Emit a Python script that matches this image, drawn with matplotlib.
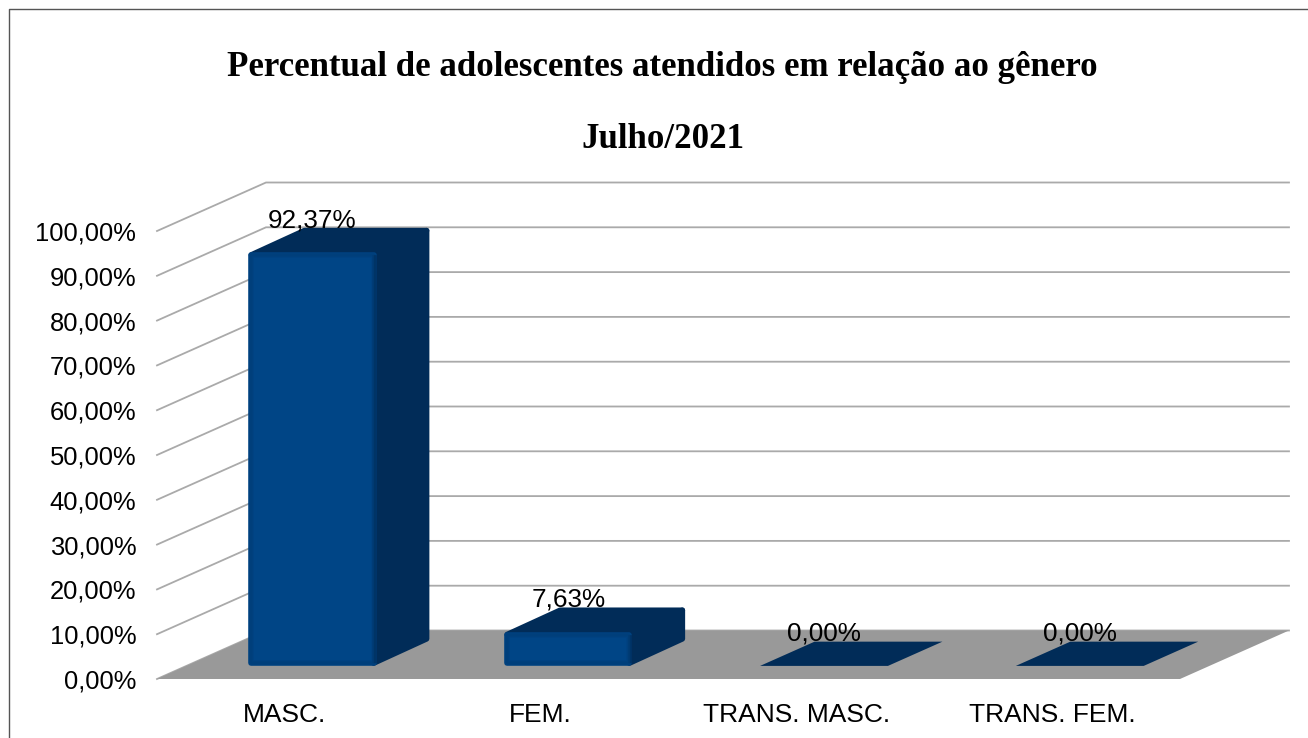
import matplotlib
matplotlib.use("Agg")
import matplotlib.pyplot as plt
from matplotlib.lines import Line2D
from matplotlib.patches import Polygon

# dados do gráfico
categorias = ["MASC.", "FEM.", "TRANS. MASC.", "TRANS. FEM."]
percentuais = [92.37, 7.63, 0.00, 0.00]
rotulos = ["92,37%", "7,63%", "0,00%", "0,00%"]
ticks_y = [0, 10, 20, 30, 40, 50, 60, 70, 80, 90, 100]
ticks_y_rotulos = ["0,00%", "10,00%", "20,00%", "30,00%", "40,00%", "50,00%",
                   "60,00%", "70,00%", "80,00%", "90,00%", "100,00%"]

AZUL = "#004586"
AZUL_ESCURO = "#012c58"
CINZA_GRADE = "#aaaaaa"
CINZA_PISO = "#999999"

W, H = 1308, 738

# deslocamento da perspectiva (fundo do gráfico), em unidades dos eixos
PROF_X = 109 / 255.75
PROF_Y = 48.5 / 4.48
BAR_FRENTE = 0.27
BAR_FUNDO = 0.77
BAR_LARG = 0.5
BAR_DESVIO = -0.007
# recuo do contorno arredondado, para a borda externa cair no valor da barra
RECUO_X = 0.011
RECUO_Y = 0.62


def desenha_barra(ax, i, valor):
    x0 = i + 0.5 - BAR_LARG / 2 + BAR_FRENTE * PROF_X + BAR_DESVIO
    x1 = x0 + BAR_LARG
    y0 = BAR_FRENTE * PROF_Y
    y1 = y0 + valor
    dx = (BAR_FUNDO - BAR_FRENTE) * PROF_X
    dy = (BAR_FUNDO - BAR_FRENTE) * PROF_Y

    if valor == 0:
        topo = [(x0, y1), (x1, y1), (x1 + dx, y1 + dy), (x0 + dx, y1 + dy)]
        ax.add_patch(Polygon(topo, fc=AZUL_ESCURO, ec="none", zorder=3, clip_on=False))
        return

    x0 += RECUO_X
    x1 -= RECUO_X
    y0 += RECUO_Y
    y1 -= RECUO_Y
    dx -= 0.006

    # lateral e topo com cantos arredondados
    topo = [(x0, y1), (x1, y1), (x1 + dx, y1 + dy), (x0 + dx, y1 + dy)]
    lateral = [(x1, y0), (x1 + dx, y0 + dy), (x1 + dx, y1 + dy), (x1, y1)]
    estilo = dict(fc=AZUL_ESCURO, ec=AZUL_ESCURO, lw=4, joinstyle="round", zorder=3, clip_on=False)
    ax.add_patch(Polygon(lateral, **estilo))
    ax.add_patch(Polygon(topo, **estilo))

    frente = [(x0, y0), (x1, y0), (x1, y1), (x0, y1)]
    ax.add_patch(Polygon(frente, fc=AZUL, ec=AZUL, lw=4, joinstyle="round", zorder=4, clip_on=False))
    # sombreado suave: contorno fraco e transição mais forte na aresta direita
    for lw, alpha in [(4, 0.08), (3, 0.08), (1.5, 0.08)]:
        ax.add_patch(Polygon(frente, fc="none", ec=AZUL_ESCURO, lw=lw, alpha=alpha,
                             joinstyle="round", zorder=5, clip_on=False))
    for lw, alpha in [(4, 0.2), (2.5, 0.25), (1.2, 0.3)]:
        ax.plot([x1 + RECUO_X * 0.6] * 2, [y0, y1], color=AZUL_ESCURO, lw=lw, alpha=alpha,
                zorder=5, clip_on=False, solid_capstyle="butt")


fig = plt.figure(figsize=(W / 100, H / 100), dpi=100, facecolor="white")
ax = fig.add_axes([157 / W, 1 - 679 / H, 1023 / W, 448 / H])
ax.set_xlim(0, 4)
ax.set_ylim(0, 100)
ax.patch.set_alpha(0)
for lado in ax.spines.values():
    lado.set_visible(False)

# grade: diagonal na parede lateral e horizontal na parede do fundo
for t in ticks_y:
    ax.plot([0, PROF_X, 4 + PROF_X], [t, t + PROF_Y, t + PROF_Y], color=CINZA_GRADE,
            lw=1.3, zorder=1, clip_on=False, solid_joinstyle="miter")

# piso
piso = [(0, 0), (4, 0), (4 + PROF_X, PROF_Y), (PROF_X, PROF_Y)]
ax.add_patch(Polygon(piso, fc=CINZA_PISO, ec="none", zorder=2, clip_on=False))

for i, v in enumerate(percentuais):
    desenha_barra(ax, i, v)
    ax.annotate(rotulos[i], xy=(i + 0.5 + BAR_FRENTE * PROF_X + BAR_DESVIO, v + BAR_FRENTE * PROF_Y),
                xytext=(0, 32), textcoords="offset pixels", ha="center", va="center",
                fontsize=18.8, family="Liberation Sans", color="black", zorder=6,
                annotation_clip=False)

ax.set_xticks([i + 0.5 for i in range(len(categorias))])
ax.set_xticklabels(categorias, family="Liberation Sans", fontsize=19)
ax.set_yticks(ticks_y)
ax.set_yticklabels(ticks_y_rotulos, family="Liberation Sans", fontsize=18.4)
ax.tick_params(axis="x", length=0, pad=17)
ax.tick_params(axis="y", length=0, pad=15)

fig.text(662.5 / W, 1 - 68 / H, "Percentual de adolescentes atendidos em relação ao gênero",
         ha="center", va="center", family="Liberation Serif", weight="bold", fontsize=25.1)
fig.text(662.5 / W, 1 - 140 / H, "Julho/2021",
         ha="center", va="center", family="Liberation Serif", weight="bold", fontsize=25.1)

# contorno do quadro
fig.add_artist(Line2D([9 / W, 9 / W, 1], [0, 1 - 9 / H, 1 - 9 / H], color="#555555", lw=1.0))

fig.savefig("out.png", dpi=100)
